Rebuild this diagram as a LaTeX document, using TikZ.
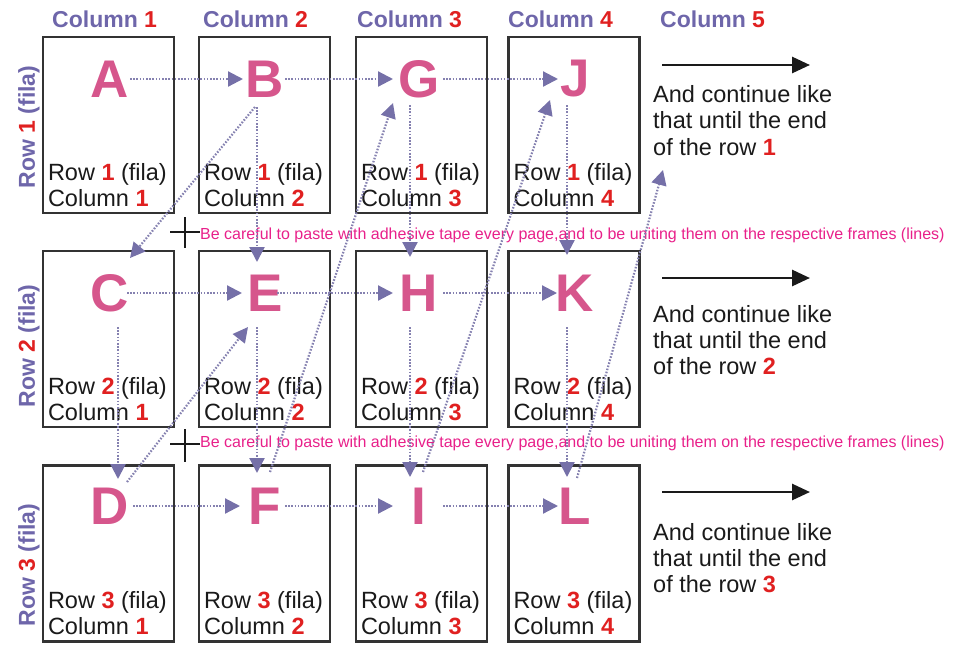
\documentclass[tikz,border=0pt]{standalone}
\usepackage{fontspec}
\setmainfont{Liberation Sans}
\usetikzlibrary{arrows.meta,calc}
\definecolor{lettercol}{HTML}{D6568C}
\definecolor{arrcol}{HTML}{7570A8}
\definecolor{dotcol}{HTML}{8581B0}
\definecolor{headcol}{HTML}{6E66AA}
\definecolor{numred}{HTML}{E02020}
\definecolor{notecol}{HTML}{E8208A}
\definecolor{framecol}{HTML}{333333}
\definecolor{txtcol}{HTML}{1A1A1A}
\newcommand{\rednum}[1]{\textcolor{numred}{\bfseries #1}}
\begin{document}
\begin{tikzpicture}[x=1pt,y=-1pt,
  frame/.style={draw=framecol, line width=2.4pt, minimum width=131pt, minimum height=176pt, inner sep=0pt},
  letter/.style={text=lettercol, font=\fontsize{53}{53}\selectfont\bfseries, inner sep=0pt},
  celltext/.style={text=txtcol, font=\fontsize{23.5}{26}\selectfont, inner sep=0pt},
  sidetext/.style={text=txtcol, font=\fontsize{23.5}{26}\selectfont, inner sep=0pt, anchor=base west},
  head/.style={text=headcol, font=\fontsize{23}{26}\selectfont\bfseries, inner sep=0pt},
  note/.style={text=notecol, font=\fontsize{16}{18}\selectfont, inner sep=0pt, anchor=base west},
  dotarr/.style={draw=dotcol, line width=2.2pt, dash pattern=on 1.6pt off 1.6pt, -{Triangle[length=15pt,width=15pt,fill=arrcol,color=arrcol]}},
  bigarr/.style={draw=txtcol, line width=2.8pt, -{Triangle[length=18pt,width=16pt]}},
  crossline/.style={draw=txtcol, line width=1.6pt}
]
\useasboundingbox (0,0) rectangle (963,646);

% frames and cell texts
\foreach \c/\x in {1/108.5,2/264.5,3/421.5,4/574}{
  \foreach \r/\y in {1/125,2/339,3/553.5}{
    \node[frame] (f\r\c) at (\x,\y) {};
    \node[celltext, anchor=base west] (ta\r\c) at ($(f\r\c.south west)+(6,-34)$) {Row \rednum{\r} (fila)};
    \node[celltext, anchor=base west] (tb\r\c) at ($(f\r\c.south west)+(6,-8)$) {Column \rednum{\c}};
  }
}

% column headers
\node[head, anchor=base west] (h1) at (52,27) {Column \textcolor{numred}{1}};
\node[head, anchor=base west] (h2) at (203,27) {Column \textcolor{numred}{2}};
\node[head, anchor=base west] (h3) at (357,27) {Column \textcolor{numred}{3}};
\node[head, anchor=base west] (h4) at (508,27) {Column \textcolor{numred}{4}};
\node[head, anchor=base west] (h5) at (660,27) {Column \textcolor{numred}{5}};

% row labels
\node[head, rotate=90] (rl1) at (29,127) {Row \textcolor{numred}{1} (fila)};
\node[head, rotate=90] (rl2) at (29,346) {Row \textcolor{numred}{2} (fila)};
\node[head, rotate=90] (rl3) at (29,565) {Row \textcolor{numred}{3} (fila)};

% letters
\node[letter] (A) at (110,79) {A};
\node[letter] (B) at (265,79) {B};
\node[letter] (G) at (419,79) {G};
\node[letter] (J) at (575,79) {J};
\node[letter] (C) at (110,293) {C};
\node[letter] (E) at (265,293) {E};
\node[letter] (H) at (419,293) {H};
\node[letter] (K) at (575,293) {K};
\node[letter] (D) at (110,506) {D};
\node[letter] (F) at (265,506) {F};
\node[letter] (I) at (419,506) {I};
\node[letter] (L) at (575,506) {L};

% right side texts
\node[sidetext] (s1a) at (653,102) {And continue like};
\node[sidetext] (s1b) at (653,128) {that until the end};
\node[sidetext] (s1c) at (653,155) {of the row \rednum{1}};
\node[sidetext] (s2a) at (653,322) {And continue like};
\node[sidetext] (s2b) at (653,348) {that until the end};
\node[sidetext] (s2c) at (653,374) {of the row \rednum{2}};
\node[sidetext] (s3a) at (653,540) {And continue like};
\node[sidetext] (s3b) at (653,566) {that until the end};
\node[sidetext] (s3c) at (653,592) {of the row \rednum{3}};

% big arrows
\coordinate (b1s) at (662,65);  \coordinate (b1e) at (810,65);
\coordinate (b2s) at (662,278); \coordinate (b2e) at (810,278);
\coordinate (b3s) at (662,492); \coordinate (b3e) at (810,492);
\draw[bigarr] (b1s) -- (b1e);
\draw[bigarr] (b2s) -- (b2e);
\draw[bigarr] (b3s) -- (b3e);

% notes and crosses
\node[note] (n1) at (200,239) {Be careful to paste with adhesive tape every page,and to be uniting them on the respective frames (lines)};
\node[note] (n2) at (200,447) {Be careful to paste with adhesive tape every page,and to be uniting them on the respective frames (lines)};
\draw[crossline] (170,232) -- (200,232) (185,217) -- (185,248);
\draw[crossline] (170,444) -- (200,444) (185,429) -- (185,462);

% horizontal dotted arrows
\draw[dotarr] ($(A)+(20,0)$) -- ($(B)+(-22,0)$);
\draw[dotarr] ($(B)+(20,0)$) -- ($(G)+(-26,0)$);
\draw[dotarr] ($(G)+(24,0)$) -- ($(J)+(-17,0)$);
\draw[dotarr] ($(C)+(17,0)$) -- ($(E)+(-23,0)$);
\draw[dotarr] ($(E)+(12,0)$) -- ($(H)+(-26,0)$);
\draw[dotarr] ($(H)+(24,0)$) -- ($(K)+(-18,0)$);
\draw[dotarr] ($(D)+(23,0)$) -- ($(F)+(-25,0)$);
\draw[dotarr] ($(F)+(20,0)$) -- ($(I)+(-26,0)$);
\draw[dotarr] ($(I)+(24,0)$) -- ($(L)+(-17,0)$);

% vertical dotted arrows
\draw[dotarr] ($(B)+(-8,28)$) -- ($(E)+(-8,-31)$);
\draw[dotarr] ($(G)+(-9,26)$) -- ($(H)+(-9,-36)$);
\draw[dotarr] ($(J)+(-8,26)$) -- ($(K)+(-8,-38)$);
\draw[dotarr] ($(C)+(8,34)$) -- ($(D)+(8,-27)$);
\draw[dotarr] ($(E)+(-8,34)$) -- ($(F)+(-8,-33)$);
\draw[dotarr] ($(H)+(-9,34)$) -- ($(I)+(-9,-29)$);
\draw[dotarr] ($(K)+(-8,34)$) -- ($(L)+(-8,-29)$);

% diagonal dotted arrows
\draw[dotarr] ($(B)+(-10,28)$) -- ($(C)+(20,-35)$);
\draw[dotarr] ($(D)+(17,-24)$) -- ($(E)+(-17,34)$);
\draw[dotarr] ($(F)+(5,-34)$) -- ($(G)+(-26,24)$);
\draw[dotarr] ($(I)+(4,-34)$) -- ($(J)+(-25,21)$);
\draw[dotarr] ($(L)+(2,-28)$) -- ($(s1c.base west)+(10,15)$);
\end{tikzpicture}
\end{document}
